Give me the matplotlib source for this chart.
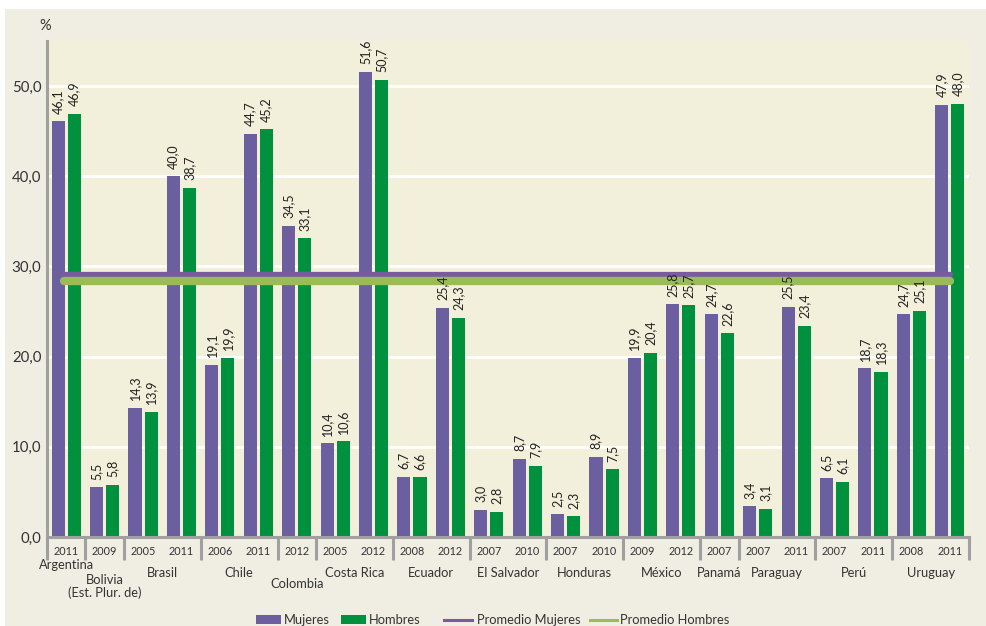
import matplotlib
matplotlib.use("Agg")
import matplotlib.pyplot as plt
from matplotlib.patches import Rectangle
from matplotlib.lines import Line2D
import matplotlib.transforms as mtransforms

plt.rcParams['font.family'] = ['Lato', 'DejaVu Sans']

years = ["2011", "2009", "2005", "2011", "2006", "2011", "2012", "2005", "2012", "2008", "2012",
         "2007", "2010", "2007", "2010", "2009", "2012", "2007", "2007", "2011", "2007", "2011",
         "2008", "2011"]
mujeres = [46.1, 5.5, 14.3, 40.0, 19.1, 44.7, 34.5, 10.4, 51.6, 6.7, 25.4, 3.0, 8.7, 2.5, 8.9,
           19.9, 25.8, 24.7, 3.4, 25.5, 6.5, 18.7, 24.7, 47.9]
hombres = [46.9, 5.8, 13.9, 38.7, 19.9, 45.2, 33.1, 10.6, 50.7, 6.6, 24.3, 2.8, 7.9, 2.3, 7.5,
           20.4, 25.7, 22.6, 3.1, 23.4, 6.1, 18.3, 25.1, 48.0]
countries = ["Argentina", "Bolivia\n(Est. Plur. de)", "Brasil", "Chile", "Colombia", "Costa Rica",
             "Ecuador", "El Salvador", "Honduras", "México", "Panamá", "Paraguay", "Perú", "Uruguay"]
country_sizes = [1, 1, 2, 2, 1, 2, 2, 2, 2, 2, 1, 2, 2, 2]
prom_mujeres = 29.2
prom_hombres = 28.4
legend_labels = ["Mujeres", "Hombres", "Promedio Mujeres", "Promedio Hombres"]

C_M = "#6B5FA0"
C_H = "#00913F"
C_PM = "#7A5C9E"
C_PH = "#9BBB59"
BG_OUT = "#F0EEE3"
BG_IN = "#F2F0DA"
GRAY = "#A0A0A0"
TXT = "#333333"

W, H = 986, 626
fig = plt.figure(figsize=(W / 100, H / 100), dpi=100, facecolor="white")
fig.patches.append(Rectangle((5 / W, 0), 1, 1 - 9 / H, transform=fig.transFigure,
                             facecolor=BG_OUT, edgecolor="none", zorder=-10))

ax = fig.add_axes([47 / W, 89 / H, 922 / W, 496 / H])
ax.set_facecolor(BG_IN)
n = len(years)
x = list(range(n))
w = 0.34
off = 0.21
ax.bar([i - off for i in x], mujeres, width=w, color=C_M, zorder=3)
ax.bar([i + off for i in x], hombres, width=w, color=C_H, zorder=3)

ax.plot([-0.05, 23.0], [prom_mujeres, prom_mujeres], color=C_PM, lw=3.8,
        solid_capstyle="round", zorder=4)
ax.plot([-0.05, 23.0], [prom_hombres, prom_hombres], color=C_PH, lw=6.0,
        solid_capstyle="round", zorder=5)

for i in x:
    for xv, v in ((i - off, mujeres[i]), (i + off, hombres[i])):
        ax.annotate(f"{v:.1f}".replace(".", ","), (xv, v), xytext=(0, 5.5), textcoords="offset points",
                    rotation=90, ha="center", va="bottom", fontsize=9.0, color="#222222", zorder=6)

ax.set_xlim(-0.5, 23.5)
ax.set_ylim(0, 55)
ax.set_yticks([0, 10, 20, 30, 40, 50])
ax.set_yticklabels(["0,0", "10,0", "20,0", "30,0", "40,0", "50,0"], fontsize=10.8, color=TXT)
ax.tick_params(axis="y", length=0, pad=4)
ax.set_xticks([])
ax.grid(axis="y", color="white", lw=2, zorder=1)
ax.set_axisbelow(True)
for s in ("top", "right"):
    ax.spines[s].set_visible(False)
for s in ("left", "bottom"):
    ax.spines[s].set_color(GRAY)
    ax.spines[s].set_linewidth(2.2)
    ax.spines[s].set_zorder(7)

trans = mtransforms.blended_transform_factory(ax.transData, ax.transAxes)
for i, yr in enumerate(years):
    ax.text(i, -0.030, yr, transform=trans, ha="center", va="center", fontsize=7.8, color=TXT)

bounds = [-0.5]
start = 0
label_y = {"Argentina": -0.0565, "Bolivia\n(Est. Plur. de)": -0.099, "Colombia": -0.0948}
for c, sz in zip(countries, country_sizes):
    centre = start + (sz - 1) / 2
    ax.text(centre, label_y.get(c, -0.0726), c, transform=trans, ha="center", va="center",
            fontsize=9.3, color=TXT, linespacing=1.05)
    start += sz
    bounds.append(start - 0.5)
for b in bounds:
    ax.plot([b, b], [0, -0.046], transform=trans, color=GRAY, lw=2.2, clip_on=False,
            solid_capstyle="butt", zorder=7)

fig.text(45 / W, 1 - 26 / H, "%", ha="center", va="center", fontsize=10.5, color=TXT)

# legend (manual placement)
ly = 1 - 619.5 / H
fig.patches.append(Rectangle((256 / W, 1 - 624 / H), 25 / W, 9 / H, transform=fig.transFigure,
                             facecolor=C_M, edgecolor="none"))
fig.patches.append(Rectangle((341 / W, 1 - 624 / H), 25 / W, 9 / H, transform=fig.transFigure,
                             facecolor=C_H, edgecolor="none"))
fig.add_artist(Line2D([444 / W, 472 / W], [ly, ly], transform=fig.transFigure, color=C_PM, lw=2.2))
fig.add_artist(Line2D([590 / W, 617 / W], [ly, ly], transform=fig.transFigure, color=C_PH, lw=2.2))
for xt, lab in zip([284, 369, 477, 620], legend_labels):
    fig.text(xt / W, ly, lab, ha="left", va="center", fontsize=9.3, color=TXT)

fig.savefig("out.png", dpi=100, facecolor=fig.get_facecolor())
